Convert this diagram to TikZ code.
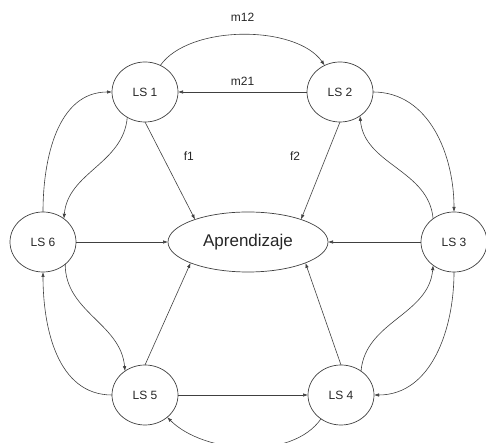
\documentclass[tikz,border=0pt]{standalone}
\usepackage{fontspec}
\setmainfont{Liberation Sans}
\usetikzlibrary{positioning}
\usetikzlibrary{shapes.geometric,calc,arrows.meta}

\begin{document}
\begin{tikzpicture}[x=1pt,y=1pt,every node/.style={outer sep=0pt},
 ls/.style={ellipse,draw=black!75,line width=0.7pt,minimum width=66pt,minimum height=60pt,
 font=\fontsize{12}{14}\selectfont,text=black!85},
 goal/.style={ellipse,draw=black!75,line width=0.7pt,minimum width=160pt,minimum height=60pt,
 font=\fontsize{17}{20}\selectfont,text=black!85},
 link/.style={draw=black!75,line width=0.6pt,-{Latex[length=5pt,width=3.5pt]}},
 lbl/.style={font=\fontsize{12}{14}\selectfont,text=black!85}]

 \useasboundingbox (0,0) rectangle (486,443);

 \node[goal] (apr) at (248,201) {Aprendizaje};
 \node[ls] (ls1) at (145,351) {LS 1};
 \node[ls] (ls2) at (340,351) {LS 2};
 \node[ls] (ls3) at (454,201) {LS 3};
 \node[ls] (ls4) at (341,48) {LS 4};
 \node[ls] (ls5) at (145,48) {LS 5};
 \node[ls] (ls6) at (43,201) {LS 6};

 % top pair
 \draw[link] (ls1.60) to[out=55,in=125,looseness=0.78] node[midway,above=10pt,lbl]{m12} (ls2.120);
 \draw[link] (ls2.west) -- (ls1.east) node[midway,above=3pt,lbl]{m21};

 % towards the goal
 \draw[link] (ls1.south) -- (apr.157) node[pos=0.35,right=18pt,lbl]{f1};
 \draw[link] (ls2.south) -- (apr.23) node[pos=0.35,left=23pt,lbl]{f2};
 \draw[link] (ls6.east) -- (apr.west);
 \draw[link] (ls3.west) -- (apr.east);
 \draw[link] (ls5.north) -- (apr.200);
 \draw[link] (ls4.north) -- (apr.-20);

 % left side
 \draw[link] (ls6.north) to[out=90,in=180] (ls1.west);
 \draw[link] (ls1.235) to[out=-95,in=85] (ls6.48);
 \draw[link] (ls6.-45) to[out=-90,in=95] (ls5.130);
 \draw[link] (ls5.west) to[out=180,in=-90] (ls6.south);

 % right side
 \draw[link] (ls2.east) to[out=0,in=90] (ls3.north);
 \draw[link] (ls3.132) to[out=95,in=-85] (ls2.-50);
 \draw[link] (ls4.50) to[out=85,in=-95] (ls3.-132);
 \draw[link] (ls3.south) to[out=-90,in=0] (ls4.east);

 % bottom pair
 \draw[link] (ls5.east) -- (ls4.west);
 \draw[link] (ls4.-130) to[out=-125,in=-45,looseness=0.85] (ls5.-45);
\end{tikzpicture}
\end{document}
